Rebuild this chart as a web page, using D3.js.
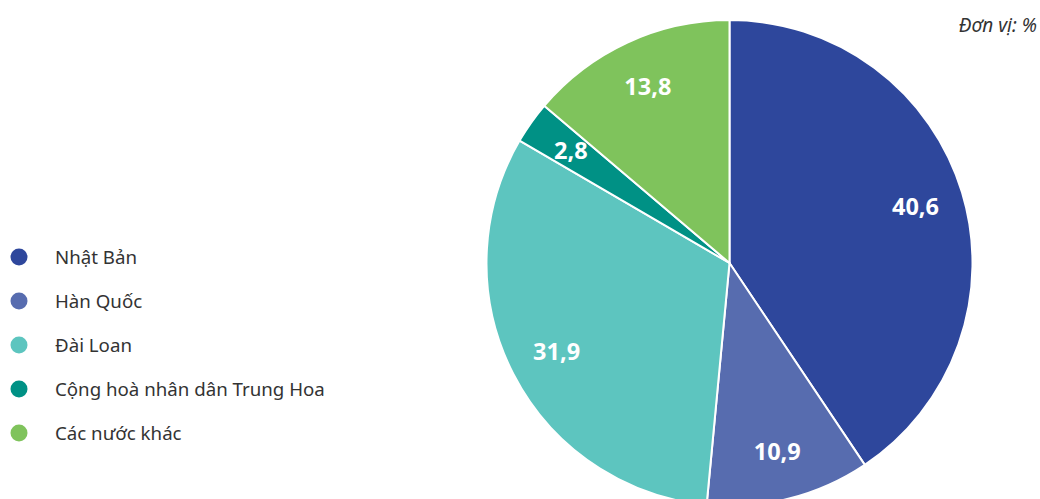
<!DOCTYPE html>
<html>
<head>
<meta charset="utf-8">
<script src="https://cdn.jsdelivr.net/npm/d3@7/dist/d3.min.js"></script>
<style>
  html, body { margin: 0; padding: 0; background: #fff; }
  svg { display: block; font-family: "Noto Sans", "Open Sans", sans-serif; }
</style>
</head>
<body>
<svg id="chart" width="1040" height="499"></svg>
<script>
// Cơ cấu theo thị trường (%)
const categories = ["Nhật Bản", "Hàn Quốc", "Đài Loan", "Cộng hoà nhân dân Trung Hoa", "Các nước khác"];
const values = [40.6, 10.9, 31.9, 2.8, 13.8];
const colors = ["#2e479c", "#576caf", "#5dc5bf", "#009185", "#7fc35c"];
const unitLabel = "Đơn vị: %";

const width = 1040, height = 499;
const svg = d3.select("#chart");

const cx = 729.5, cy = 263, radius = 243;

const data = categories.map((name, i) => ({ name, value: values[i], color: colors[i] }));

const pie = d3.pie().value(d => d.value).sort(null);
const arc = d3.arc().innerRadius(0).outerRadius(radius);
const labelArc = d3.arc().innerRadius(radius * 0.8).outerRadius(radius * 0.8);

const fmt = v => d3.format(".1f")(v).replace(".", ",");

const g = svg.append("g").attr("transform", `translate(${cx},${cy})`);
const arcs = pie(data);

g.selectAll("path.slice")
  .data(arcs)
  .join("path")
  .attr("class", "slice")
  .attr("d", arc)
  .attr("fill", d => d.data.color)
  .attr("stroke", "#fff")
  .attr("stroke-width", 2)
  .attr("stroke-linejoin", "round");

g.selectAll("text.value")
  .data(arcs)
  .join("text")
  .attr("class", "value")
  .attr("transform", d => `translate(${labelArc.centroid(d)})`)
  .attr("text-anchor", "middle")
  .attr("dy", "0.35em")
  .attr("fill", "#fff")
  .attr("font-size", 23.5)
  .attr("font-weight", 700)
  .text(d => fmt(d.data.value));

// Legend
const legend = svg.append("g").attr("transform", "translate(19,257)");
const item = legend.selectAll("g.item")
  .data(data)
  .join("g")
  .attr("class", "item")
  .attr("transform", (d, i) => `translate(0,${i * 44})`);

item.append("circle")
  .attr("r", 8.5)
  .attr("fill", d => d.color);

item.append("text")
  .attr("x", 36)
  .attr("dy", "0.35em")
  .attr("font-size", 18.7)
  .attr("fill", "#333")
  .text(d => d.name);

// Unit note
svg.append("text")
  .attr("x", 1037)
  .attr("y", 32)
  .attr("text-anchor", "end")
  .attr("font-size", 19)
  .attr("font-style", "italic")
  .attr("fill", "#333")
  .text(unitLabel);
</script>
</body>
</html>
